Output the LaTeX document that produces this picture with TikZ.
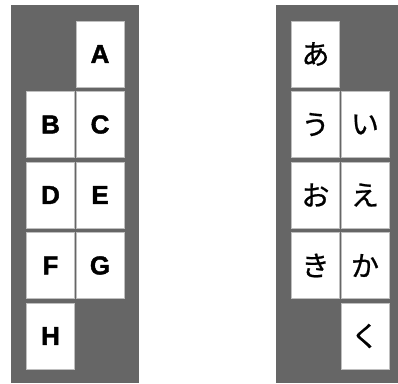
\documentclass[tikz,border=0pt]{standalone}
\usepackage{fontspec}
\setmainfont{Liberation Sans}
\newfontfamily\heavyfont[FakeBold=1.6]{Liberation Sans Bold}
\newfontfamily\jpfont[FakeBold=0.8]{Noto Sans CJK JP}
\usetikzlibrary{positioning}
\definecolor{panelgray}{RGB}{102,102,102}

\begin{document}
\begin{tikzpicture}[
    x=1pt, y=-1pt,
    node distance=4.5pt and 1.5pt,
    panel/.style={fill=panelgray},
    tile/.style={draw=black!25, line width=0.5pt, fill=white, minimum width=48pt, minimum height=66pt, inner sep=0pt, outer sep=0pt, font=\fontsize{26}{26}\selectfont\heavyfont},
    kana/.style={tile, font=\fontsize{28}{28}\selectfont\jpfont}
  ]
    \useasboundingbox (0,0) rectangle (398,383);
    \fill[panel] (11,5) rectangle (139,383);
    \fill[panel] (276,5) rectangle (398,383);

    % latin letters
    \node[tile] (a) at (100,54) {A};
    \node[tile, below left=of a] (b) {B};
    \node[tile, below=of a] (c) {C};
    \node[tile, below=of b] (d) {D};
    \node[tile, below=of c] (e) {E};
    \node[tile, below=of d] (f) {F};
    \node[tile, below=of e] (g) {G};
    \node[tile, below=of f] (h) {H};

    % kana
    \node[kana] (ja) at (315.5,54) {あ};
    \node[kana, below=of ja] (ju) {う};
    \node[kana, below right=of ja] (ji) {い};
    \node[kana, below=of ju] (jo) {お};
    \node[kana, below=of ji] (je) {え};
    \node[kana, below=of jo] (jki) {き};
    \node[kana, below=of je] (jka) {か};
    \node[kana, below=of jka] (jku) {く};
  \end{tikzpicture}
\end{document}
